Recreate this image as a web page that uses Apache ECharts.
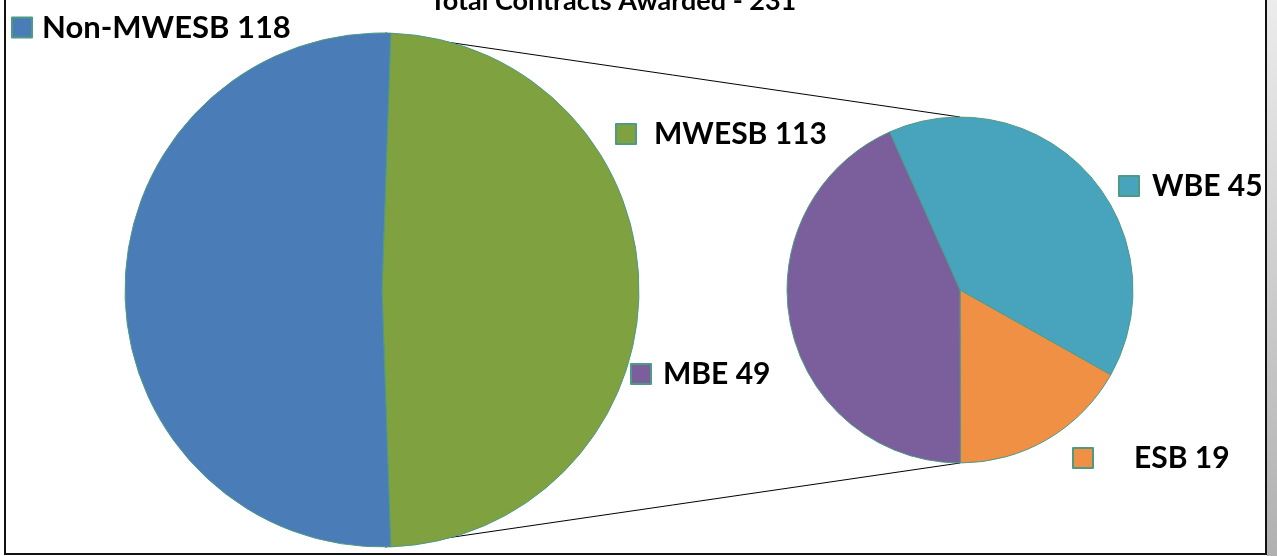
<!DOCTYPE html>
<html lang="en">
<head>
    <meta charset="UTF-8">
    <title>Total Contracts Awarded</title>
    <script src="https://cdn.jsdelivr.net/npm/echarts@6/dist/echarts.min.js"></script>
    <style>
        html, body { margin: 0; padding: 0; background: #fff; }
        #main { width: 1277px; height: 556px; }
    </style>
</head>
<body>
    <div id="main"></div>
    <script>
        // data
        var titleText = 'Total Contracts Awarded - 231'
        var mainNames = ['MWESB', 'Non-MWESB']
        var mainValues = [113, 118]
        var subNames = ['WBE', 'ESB', 'MBE']
        var subValues = [45, 19, 49]

        var colors = {
            'MWESB': '#7fa140',
            'Non-MWESB': '#4a7cb7',
            'WBE': '#47a4bc',
            'ESB': '#ef9044',
            'MBE': '#7a5f9c'
        }

        // layout
        var bigC = [382, 290], bigR = 257
        var smallC = [960, 290], smallR = 173
        var font = 'Lato, "Open Sans", sans-serif'
        // the "other" slice sits centred on the right, like Excel's pie of pie
        var bigStart = 180 * mainValues[0] / (mainValues[0] + mainValues[1])
        // legend boxes: left, top, gap between marker and text, font size
        var legendPos = {
            'Non-MWESB': [11, 12, 5, 31],
            'MWESB': [615, 119, 13, 30],
            'MBE': [630, 359, 7, 30],
            'WBE': [1118, 171, 8, 30],
            'ESB': [1072, 443, 36, 30]
        }

        var valueOf = {}
        mainNames.forEach(function (n, i) { valueOf[n] = mainValues[i] })
        subNames.forEach(function (n, i) { valueOf[n] = subValues[i] })

        function toData(names, values) {
            return names.map(function (n, i) {
                return { name: n, value: values[i], itemStyle: { color: colors[n] } }
            })
        }

        var legends = Object.keys(legendPos).map(function (n) {
            var p = legendPos[n]
            return {
                data: [n],
                left: p[0],
                top: p[1],
                padding: 0,
                icon: 'rect',
                itemWidth: 20,
                itemHeight: 20,
                selectedMode: false,
                formatter: function (name) { return name + ' ' + valueOf[name] },
                textStyle: {
                    fontFamily: font,
                    fontWeight: 'bold',
                    fontSize: p[3],
                    color: '#000',
                    padding: [0, 0, 0, p[2]]
                }
            }
        })

        var pieStyle = { borderColor: '#4f9a84', borderWidth: 1 }

        var mCharts = echarts.init(document.getElementById('main'))
        var option = {
            animation: false,
            title: {
                text: titleText,
                left: 608,
                top: -17,
                textAlign: 'center',
                textStyle: { fontFamily: font, fontWeight: 'bold', fontSize: 27, color: '#000' }
            },
            legend: legends,
            graphic: [
                // connector lines from the big pie to the small one
                { type: 'line', z: -1, shape: { x1: bigC[0] + 3, y1: bigC[1] - bigR, x2: smallC[0], y2: smallC[1] - smallR }, style: { stroke: '#000', lineWidth: 1 } },
                { type: 'line', z: -1, shape: { x1: bigC[0] + 3, y1: bigC[1] + bigR, x2: smallC[0], y2: smallC[1] + smallR }, style: { stroke: '#000', lineWidth: 1 } },
                // frame and shadow
                { type: 'rect', shape: { x: 5, y: -10, width: 1261, height: 564 }, style: { fill: 'none', stroke: '#111', lineWidth: 2 } },
                {
                    type: 'rect', shape: { x: 1267, y: 0, width: 10, height: 556 },
                    style: { fill: new echarts.graphic.LinearGradient(0, 0, 0, 1, [{ offset: 0, color: '#ececec' }, { offset: 1, color: '#b0b0b0' }]) }
                }
            ],
            series: [
                {
                    type: 'pie',
                    center: bigC,
                    radius: bigR,
                    startAngle: bigStart,
                    clockwise: true,
                    label: { show: false },
                    labelLine: { show: false },
                    silent: true,
                    itemStyle: pieStyle,
                    data: toData(mainNames, mainValues)
                },
                {
                    type: 'pie',
                    center: smallC,
                    radius: smallR,
                    startAngle: 114,
                    clockwise: true,
                    label: { show: false },
                    labelLine: { show: false },
                    silent: true,
                    itemStyle: pieStyle,
                    data: toData(subNames, subValues)
                }
            ]
        }
        mCharts.setOption(option)
    </script>
</body>
</html>
